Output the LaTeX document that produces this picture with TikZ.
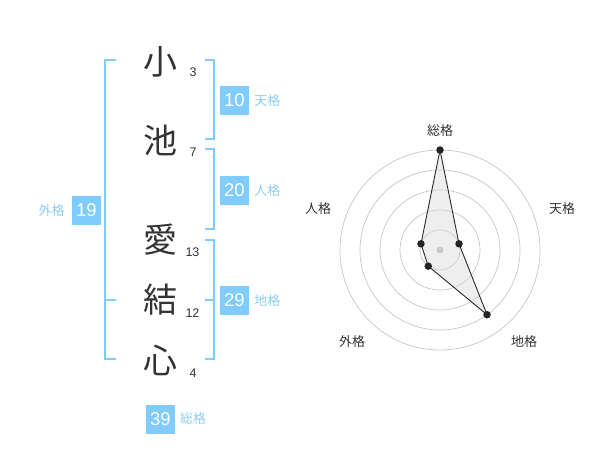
\documentclass[tikz,border=0pt]{standalone}
\usepackage{fontspec}
\setmainfont{Liberation Sans}
\newfontfamily\jp{Noto Sans CJK JP}
\usetikzlibrary{positioning, calc}
\definecolor{skyb}{HTML}{80CCFF}
\definecolor{skyt}{HTML}{8CCFF5}
\definecolor{ink}{HTML}{333333}
\tikzstyle{kanji} = [inner sep=0, font=\jp\fontsize{34}{34}\selectfont, text=ink]
\tikzstyle{stroke} = [inner sep=0, font=\fontsize{12.5}{13}\selectfont, text=ink]
\tikzstyle{score} = [fill=skyb, text=white, minimum width=29pt, minimum height=29pt, inner sep=0, font=\fontsize{18.5}{19}\selectfont]
\tikzstyle{kaku} = [inner sep=0, font=\jp\fontsize{13}{13}\selectfont, text=skyt]
\tikzstyle{bracket} = [draw=skyb, line width=2pt]
\tikzstyle{ring} = [draw=black!22, line width=0.7pt]
\tikzstyle{axis} = [inner sep=0, font=\jp\fontsize{13}{13}\selectfont, text=ink]
\tikzstyle{dot} = [circle, fill=ink!70!black, inner sep=0, minimum size=7.5pt]

\begin{document}
\begin{tikzpicture}[x=1pt, y=-1pt]
    \useasboundingbox (0,0) rectangle (600,470);
    % name
    \node(ko)[kanji] at (160,62) {小};
    \node(ike)[kanji] at (160,140) {池};
    \node(ai)[kanji] at (160,240) {愛};
    \node(yui)[kanji] at (160,300) {結};
    \node(kokoro)[kanji] at (160,360) {心};
    \node(n3)[stroke] at (193,72.5) {3};
    \node(n7)[stroke] at (193,152.5) {7};
    \node(n13)[stroke] at (192.5,252.5) {13};
    \node(n12)[stroke] at (192.5,313) {12};
    \node(n4)[stroke] at (193,373) {4};
    % brackets
    \draw[bracket] (116,60) -- (105.3,60) -- (105.3,359.3) -- (116,359.3);
    \draw[bracket] (105.3,300) -- (116,300);
    \draw[bracket] (205,60) -- (214.3,60) -- (214.3,139.3) -- (205,139.3);
    \draw[bracket] (205,149.3) -- (214.3,149.3) -- (214.3,229.3) -- (205,229.3);
    \draw[bracket] (205,240) -- (214.3,240) -- (214.3,359.3) -- (205,359.3);
    \draw[bracket] (214.3,300) -- (205,300);
    % scores
    \node(ten)[score] at (234.5,100.5) {10};
    \node(tenl)[kaku, right=5pt of ten] {天格};
    \node(jin)[score] at (234.5,190.5) {20};
    \node(jinl)[kaku, right=5pt of jin] {人格};
    \node(gai)[score] at (86.5,210.3) {19};
    \node(gail)[kaku, left=7pt of gai] {外格};
    \node(chi)[score] at (234.5,300.5) {29};
    \node(chil)[kaku, right=5pt of chi] {地格};
    \node(sou)[score] at (160.3,419) {39};
    \node(soul)[kaku, right=5pt of sou] {総格};
    % radar
    \coordinate(c) at (440,250);
    \foreach \r in {20,40,60,80,100}
        \draw[ring] (c) circle (\r);
    \coordinate(psou) at ($(c)+(-90:100)$);
    \coordinate(pten) at ($(c)+(-18:20)$);
    \coordinate(pchi) at ($(c)+(54:80)$);
    \coordinate(pgai) at ($(c)+(126:20)$);
    \coordinate(pjin) at ($(c)+(198:20)$);
    \fill[black!15, fill opacity=0.45] (psou) -- (pten) -- (pchi) -- (pgai) -- (pjin) -- cycle;
    \draw[ink!80!black, line width=0.9pt] (psou) -- (pten) -- (pchi) -- (pgai) -- (pjin) -- cycle;
    \fill[black!22] (c) circle (3.5);
    \foreach \p in {psou,pten,pchi,pgai,pjin}
        \node[dot] at (\p) {};
    \node(asou)[axis] at (440,130.5) {総格};
    \node(aten)[axis] at (562,209) {天格};
    \node(ajin)[axis] at (318,209) {人格};
    \node(achi)[axis] at (524,342) {地格};
    \node(agai)[axis] at (352,342) {外格};
\end{tikzpicture}
\end{document}
